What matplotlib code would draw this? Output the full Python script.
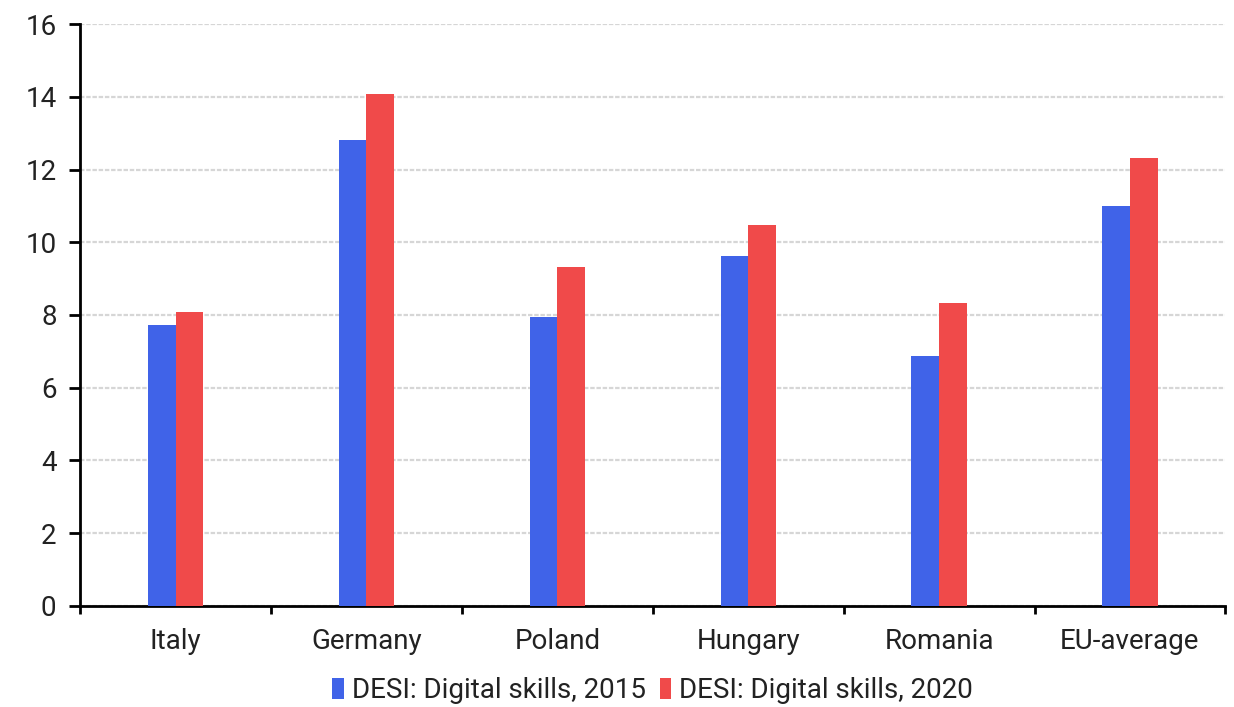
import numpy as np
import matplotlib
matplotlib.use("Agg")
import matplotlib.pyplot as plt

plt.rcParams['font.family'] = ['Roboto', 'DejaVu Sans']

countries = ['Italy', 'Germany', 'Poland', 'Hungary', 'Romania', 'EU-average']
skills_2015 = [7.72, 12.81, 7.94, 9.62, 6.87, 11.0]
skills_2020 = [8.08, 14.08, 9.32, 10.47, 8.33, 12.32]
labels = ['DESI: Digital skills, 2015', 'DESI: Digital skills, 2020']

blue = '#4063E8'
red = '#F04A4A'

fig = plt.figure(figsize=(12.34, 7.07), dpi=100)
ax = fig.add_axes([0.065, 0.143, 0.928, 0.823])

x = np.arange(len(countries))
w = 0.145
ax.bar(x - w / 2, skills_2015, w, color=blue, label=labels[0], zorder=3)
ax.bar(x + w / 2, skills_2020, w, color=red, label=labels[1], zorder=3)

ax.set_xlim(-0.5, len(countries) - 0.5)
ax.set_ylim(0, 16)
ax.set_yticks(range(0, 17, 2))
ax.set_xticks(x)
ax.set_xticklabels(countries)
# category separators as ticks
ax.set_xticks(np.arange(-0.5, len(countries)), minor=True)
ax.tick_params(axis='x', which='major', length=0, pad=16, labelsize=20, labelcolor='#222222')
ax.tick_params(axis='x', which='minor', length=6, width=2, direction='out')
ax.tick_params(axis='y', length=8, width=2, pad=9, labelsize=20, labelcolor='#222222')

ax.grid(axis='y', color='#d6d6d6', linestyle=(0, (2, 0.8)), linewidth=1.6, zorder=0)
for s in ['top', 'right']:
    ax.spines[s].set_visible(False)
for s in ['left', 'bottom']:
    ax.spines[s].set_linewidth(2)

ax.legend(loc='center', bbox_to_anchor=(0.5, -0.146), ncol=2, frameon=False,
          fontsize=20, handlelength=0.4, handleheight=0.8, handletextpad=0.3,
          columnspacing=0.5, borderpad=0.1, labelcolor='#222222')

fig.savefig('out.png', dpi=100)
